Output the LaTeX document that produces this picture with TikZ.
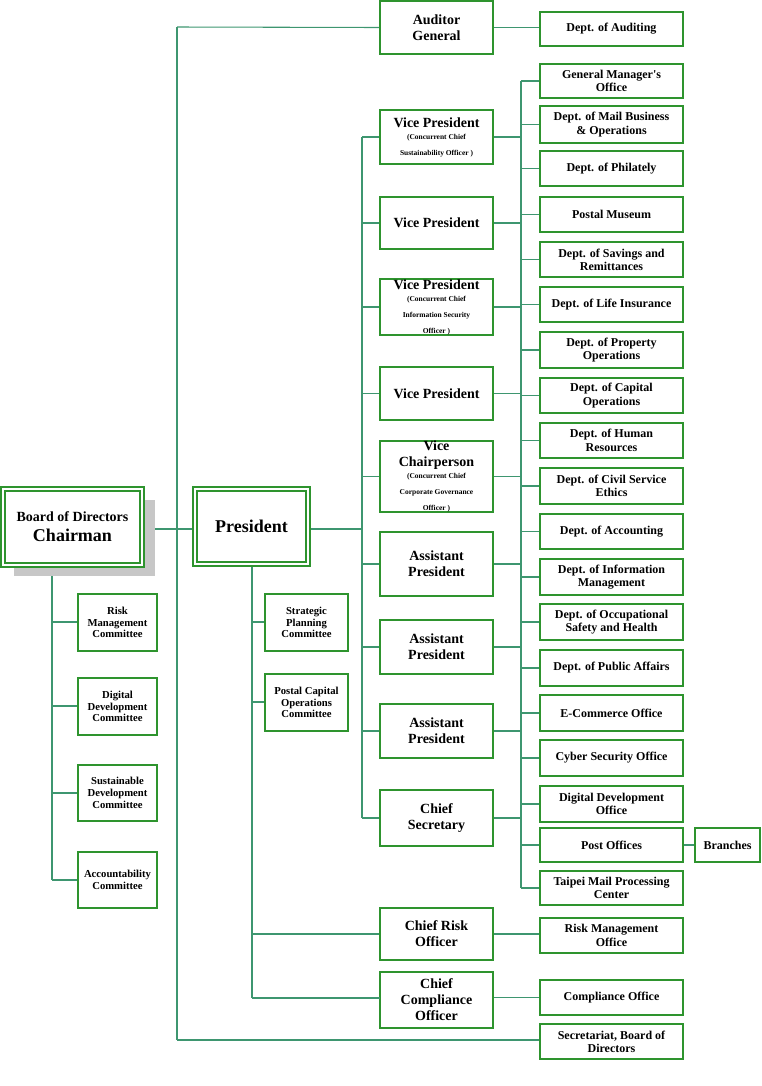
\documentclass[tikz,border=0pt]{standalone}
\usepackage{fontspec}
\setmainfont{Liberation Serif}
\definecolor{bord}{HTML}{2E942E}
\definecolor{ln}{HTML}{3E9670}
\newcommand{\smf}{\fontsize{5.6}{6.2}\selectfont}
\begin{document}
\begin{tikzpicture}[x=0.75pt,y=-0.75pt,
 box/.style={draw=bord,line width=1.4pt,fill=white,inner sep=0pt,align=center,font=\bfseries\fontsize{9}{10}\selectfont},
 tbox/.style={box,font=\bfseries\fontsize{10.5}{12}\selectfont},
 cbox/.style={box,font=\bfseries\fontsize{8}{8.8}\selectfont},
 dbox/.style={box,line width=1.3pt,double=white,double distance=1.6pt},
 ln/.style={draw=ln,line width=0.8pt}]
\useasboundingbox (0,0) rectangle (762,1086);
\newcommand{\bx}[7][box]{\pgfmathsetmacro\cx{(#3+#5)/2}\pgfmathsetmacro\cy{(#4+#6)/2}\pgfmathsetmacro\ww{(#5-#3)*0.75}\pgfmathsetmacro\hh{(#6-#4)*0.75}\node[#1,minimum width=\ww pt,minimum height=\hh pt] (#2) at (\cx,\cy) {#7};}
% lines first
\draw[ln] (52,565) -- (52,880);
\foreach \y in {622,706,793,880} \draw[ln] (52,\y) -- (78,\y);
\draw[ln] (142,529) -- (195,529);
\draw[ln] (177,27) -- (177,1040);
\draw[ln] (252,564) -- (252,998);
\foreach \y in {622,702} \draw[ln] (252,\y) -- (265,\y);
\draw[ln] (308,529) -- (362,529);
\draw[ln] (362,137) -- (362,818);
\draw[ln] (521,81) -- (521,888);
% shadow
\fill[black!22] (14,500) rectangle (155,576);
\bx[dbox]{board}{3}{489}{142}{565}{\fontsize{10.5}{12}\selectfont Board of Directors\\[5pt]\fontsize{13.5}{15}\selectfont Chairman}
\bx[dbox]{pres}{195}{489}{308}{564}{\fontsize{13.5}{15}\selectfont President}
\bx[cbox]{c1}{78}{594}{157}{651}{Risk\\Management\\Committee}
\bx[cbox]{c2}{78}{678}{157}{735}{Digital\\Development\\Committee}
\bx[cbox]{c3}{78}{765}{157}{821}{Sustainable\\Development\\Committee}
\bx[cbox]{c4}{78}{852}{157}{908}{Accountability\\Committee}
\bx[cbox]{s1}{265}{594}{348}{651}{Strategic\\Planning\\Committee}
\bx[cbox]{s2}{265}{674}{348}{731}{Postal Capital\\Operations\\Committee}
\bx[tbox]{aud}{380}{1}{493}{54}{Auditor\\General}
\bx{daud}{540}{12}{683}{46}{Dept. of Auditing}
\draw[ln] (177,27) -- (aud.west);
\draw[ln] (aud.east) -- (aud.east -| daud.west);
\bx[tbox]{vp1}{380}{110}{493}{164}{Vice President\\[-3pt]\smf (Concurrent Chief\\\smf Sustainability Officer )}
\bx[tbox]{vp2}{380}{197}{493}{249}{Vice President}
\bx[tbox]{vp3}{380}{281}{493}{333}{Vice President\\[-3pt]\smf (Concurrent Chief\\\smf Information Security\\\smf Officer )}
\bx[tbox]{vp4}{380}{367}{493}{420}{Vice President}
\bx[tbox]{vc}{380}{445}{493}{508}{Vice\\Chairperson\\[-3pt]\smf (Concurrent Chief\\\smf Corporate Governance\\\smf Officer )}
\bx[tbox]{ap1}{380}{532}{493}{596}{Assistant\\President}
\bx[tbox]{ap2}{380}{620}{493}{674}{Assistant\\President}
\bx[tbox]{ap3}{380}{704}{493}{758}{Assistant\\President}
\bx[tbox]{cs}{380}{790}{493}{846}{Chief\\Secretary}
\foreach \n in {vp1,vp2,vp3,vp4,vc,ap1,ap2,ap3,cs} {\draw[ln] (362,0 |- \n.west) -- (\n.west); \draw[ln] (\n.east) -- (521,0 |- \n.east);}
\bx{d1}{540}{64}{683}{98}{General Manager\textquotesingle s\\Office}
\bx{d2}{540}{106}{683}{143}{Dept. of Mail Business\\\& Operations}
\bx{d3}{540}{151}{683}{186}{Dept. of Philately}
\bx{d4}{540}{197}{683}{232}{Postal Museum}
\bx{d5}{540}{242}{683}{277}{Dept. of Savings and\\Remittances}
\bx{d6}{540}{287}{683}{322}{Dept. of Life Insurance}
\bx{d7}{540}{332}{683}{368}{Dept. of Property\\Operations}
\bx{d8}{540}{378}{683}{413}{Dept. of Capital\\Operations}
\bx{d9}{540}{423}{683}{458}{Dept. of Human\\Resources}
\bx{d10}{540}{468}{683}{504}{Dept. of Civil Service\\Ethics}
\bx{d11}{540}{514}{683}{549}{Dept. of Accounting}
\bx{d12}{540}{559}{683}{595}{Dept. of Information\\Management}
\bx{d13}{540}{604}{683}{640}{Dept. of Occupational\\Safety and Health}
\bx{d14}{540}{650}{683}{686}{Dept. of Public Affairs}
\bx{d15}{540}{695}{683}{731}{E-Commerce Office}
\bx{d16}{540}{740}{683}{776}{Cyber Security Office}
\bx{d17}{540}{786}{683}{822}{Digital Development\\Office}
\bx{d18}{540}{828}{683}{862}{Post Offices}
\bx{d19}{540}{871}{683}{905}{Taipei Mail Processing\\Center}
\foreach \i in {1,...,19} \draw[ln] (521,0 |- d\i.west) -- (d\i.west);
\bx{br}{695}{828}{760}{862}{Branches}
\draw[ln] (d18.east) -- (br.west);
\bx[tbox]{cro}{380}{908}{493}{960}{Chief Risk\\Officer}
\bx[tbox]{cco}{380}{972}{493}{1028}{Chief\\Compliance\\Officer}
\bx{rmo}{540}{918}{683}{953}{Risk Management\\Office}
\bx{co}{540}{980}{683}{1015}{Compliance Office}
\bx{sec}{540}{1024}{683}{1059}{Secretariat, Board of\\Directors}
\draw[ln] (252,0 |- cro.west) -- (cro.west);
\draw[ln] (252,998) -- (380,998);
\draw[ln] (cro.east) -- (cro.east -| rmo.west);
\draw[ln] (cco.east |- co.west) -- (co.west);
\draw[ln] (177,1040) -- (sec.west |- 0,1040);
\end{tikzpicture}
\end{document}
